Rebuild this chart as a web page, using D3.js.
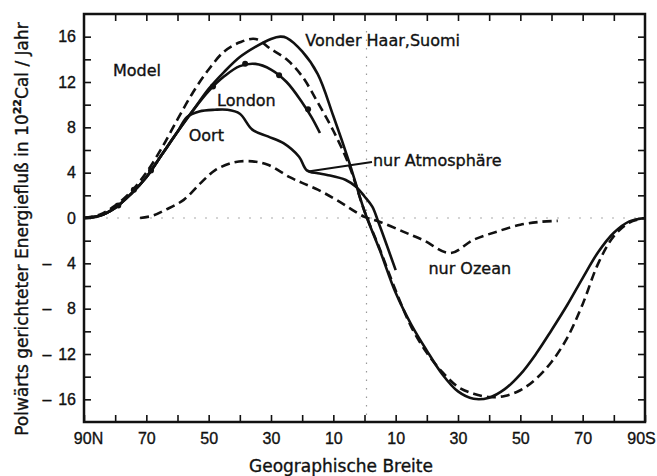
<!DOCTYPE html>
<html lang="de">
<head>
<meta charset="utf-8">
<title>Polwärts gerichteter Energiefluß</title>
<script src="https://cdn.jsdelivr.net/npm/d3@7"></script>
<style>
  body { margin: 0; background: #fff; }
  svg { font-family: "DejaVu Sans", sans-serif; }
  .axis line { stroke: #111; stroke-width: 1.6px; }
  .axis path { display: none; }
  .axis text { font-size: 16px; fill: #111; stroke: #111; stroke-width: 0.35px; }
  .lbl { font-size: 16px; fill: #111; stroke: #111; stroke-width: 0.35px; }
</style>
</head>
<body>
<script>

// data: latitude (N positive, S negative) and flux in 10^22 cal/year
var vonderHaarLat  = [90, 85, 80, 75, 70, 65, 60, 55, 50, 45, 40, 35, 30, 27, 25, 20, 15, 10, 5, 0, -5, -10, -15, -20, -25, -30, -35, -40, -45, -50, -55, -60, -65, -70, -75, -80, -85, -90];
var vonderHaarFlux = [0, 0.2, 0.9, 2.1, 3.6, 5.6, 7.6, 9.5, 11.4, 12.9, 14.2, 15.1, 15.8, 16.0, 15.9, 14.7, 12.7, 9.0, 5.0, 0.6, -2.9, -6.6, -9.4, -11.7, -13.8, -15.3, -15.95, -15.85, -15.1, -13.8, -12.0, -9.9, -7.7, -5.3, -3.0, -1.3, -0.3, 0];

var modelLat  = [90, 85, 80, 75, 70, 65, 60, 55, 50, 45, 40, 35, 30, 25, 20, 15, 10, 5, 0, -5, -10, -15, -20, -25, -30, -35, -40, -45, -50, -55, -60, -65, -70, -75, -80, -85, -90];
var modelFlux = [0, 0.3, 1.1, 2.3, 4.0, 6.2, 8.7, 11.1, 13.1, 14.7, 15.5, 15.8, 14.9, 14.0, 12.5, 10.2, 7.7, 4.7, 0.6, -2.8, -6.4, -9.6, -11.9, -13.6, -14.9, -15.5, -15.8, -15.7, -15.2, -14.2, -12.7, -10.6, -7.6, -4.0, -1.6, -0.4, 0];

var londonLat  = [90, 85, 80, 75, 70, 65, 60, 55, 50, 45, 40, 35, 30, 25, 20, 17, 14.3];
var londonFlux = [0, 0.2, 0.9, 2.1, 3.6, 5.6, 7.6, 9.5, 11.2, 12.5, 13.4, 13.6, 13.1, 12.0, 10.2, 8.9, 7.5];
var londonDotLat  = [79, 74, 68.5, 48.6, 38.3, 27.4, 18.1];
var londonDotFlux = [1.1, 2.5, 4.2, 11.6, 13.6, 12.6, 9.6];

var oortLat  = [90, 85, 80, 75, 70, 65, 60, 57, 53, 48, 44, 40, 36, 31, 26, 21, 18.5, 15, 12, 6, 2.5, 0, -2.5, -4.5, -10];
var oortFlux = [0, 0.2, 0.9, 2.1, 3.6, 5.6, 7.6, 8.9, 9.4, 9.55, 9.55, 9.2, 7.8, 7.2, 6.6, 5.4, 4.2, 3.95, 3.8, 3.35, 2.7, 1.9, 1.0, -0.4, -4.6];

var oceanLat  = [72, 68, 64, 58, 52.5, 48, 42, 36, 31, 24, 20, 15, 9, 0, -5, -12.4, -18.8, -27.5, -34.8, -42.5, -50, -56, -62];
var oceanFlux = [0, 0.2, 0.7, 1.6, 3.1, 4.2, 4.9, 5.0, 4.7, 3.6, 3.1, 2.5, 1.6, 0.1, -0.35, -1.2, -1.95, -3.1, -1.95, -1.2, -0.6, -0.35, -0.25];

// pointer from "nur Atmosphäre" label
var atmPointerLat  = [18.1, -2.4];
var atmPointerFlux = [4.1, 4.95];

var yTicks = d3.range(-16, 17, 2);
var xTicks = d3.range(-90, 91, 10);

var w = 657, h = 476;
var padLeft = 84, padRight = 645, padTop = 14, padBottom = 422;

var svg = d3.select("body").append("svg")
    .attr("width", w)
    .attr("height", h);

var x = d3.scaleLinear().domain([90, -90]).range([padLeft, padRight]);
var y = d3.scaleLinear().domain([-18, 18]).range([padBottom, padTop]);

// faint dotted reference lines (equator and zero)
svg.append("line")
    .attr("x1", x(0) + 2).attr("x2", x(0) + 2)
    .attr("y1", y(16.5)).attr("y2", padBottom)
    .attr("stroke", "#999").attr("stroke-width", 1.2)
    .attr("stroke-dasharray", "1.5,7");
svg.append("line")
    .attr("x1", padLeft).attr("x2", padRight)
    .attr("y1", y(0)).attr("y2", y(0))
    .attr("stroke", "#aaa").attr("stroke-width", 1.2)
    .attr("stroke-dasharray", "2,9");

// axes
var yAxis = d3.axisLeft(y)
    .tickValues(yTicks)
    .tickSize(-7)
    .tickPadding(8)
    .tickFormat(function(d){ return d % 4 === 0 ? Math.abs(d) : ""; });

var gy = svg.append("g")
    .attr("class", "axis")
    .attr("transform", "translate(" + padLeft + ",0)")
    .call(yAxis);

// the minus sign stands apart from the number
gy.selectAll(".tick")
    .filter(function(d){ return d < 0 && d % 4 === 0; })
    .append("text")
    .attr("x", -37)
    .attr("dy", "0.32em")
    .attr("text-anchor", "middle")
    .text("–");

svg.append("g")
    .attr("class", "axis")
    .attr("transform", "translate(" + padRight + ",0)")
    .call(d3.axisRight(y).tickValues(yTicks).tickSize(-7).tickFormat(""));

svg.append("g")
    .attr("class", "axis")
    .attr("transform", "translate(0," + padTop + ")")
    .call(d3.axisTop(x).tickValues(xTicks.slice(1, -1)).tickSize(-7).tickFormat(""));

var xAxis = d3.axisBottom(x)
    .tickValues(xTicks)
    .tickSize(-7)
    .tickPadding(11)
    .tickFormat(function(d){
        if (Math.abs(d) % 20 !== 10) return "";
        if (d === 90) return "90N";
        if (d === -90) return "90S";
        return Math.abs(d);
    });

var gx = svg.append("g")
    .attr("class", "axis")
    .attr("transform", "translate(0," + padBottom + ")")
    .call(xAxis);

// end labels sit a little inward, as in the print
gx.selectAll(".tick text")
    .attr("dx", function(d){ return d === 90 ? 4 : (d === -90 ? -4 : 0); });

// frame
svg.append("rect")
    .attr("x", padLeft).attr("y", padTop)
    .attr("width", padRight - padLeft).attr("height", padBottom - padTop)
    .attr("fill", "none")
    .attr("stroke", "#111")
    .attr("stroke-width", 2.5);

// curves
var line = d3.line()
    .x(function(d){ return x(d[0]); })
    .y(function(d){ return y(d[1]); })
    .curve(d3.curveCatmullRom.alpha(0.5));

function draw(lat, flux, dashed) {
    svg.append("path")
        .datum(d3.zip(lat, flux))
        .attr("d", line)
        .attr("fill", "none")
        .attr("stroke", "#111")
        .attr("stroke-width", 2.6)
        .attr("stroke-dasharray", dashed ? "9,5" : null);
}

draw(oceanLat, oceanFlux, true);
draw(oortLat, oortFlux, false);
draw(londonLat, londonFlux, false);
draw(modelLat, modelFlux, true);
draw(vonderHaarLat, vonderHaarFlux, false);

svg.selectAll("circle.london")
    .data(d3.zip(londonDotLat, londonDotFlux))
    .enter()
    .append("circle")
    .attr("class", "london")
    .attr("cx", function(d){ return x(d[0]); })
    .attr("cy", function(d){ return y(d[1]); })
    .attr("r", 3)
    .attr("fill", "#111");

svg.append("path")
    .datum(d3.zip(atmPointerLat, atmPointerFlux))
    .attr("d", d3.line().x(function(d){ return x(d[0]); }).y(function(d){ return y(d[1]); }))
    .attr("stroke", "#111")
    .attr("stroke-width", 2);

// curve labels
var labels = [
    {t: "Model", lat: 80.7, v: 12.5},
    {t: "London", lat: 47.3, v: 9.9},
    {t: "Oort", lat: 56.4, v: 6.8},
    {t: "Vonder Haar,Suomi", lat: 19, v: 15.2},
    {t: "nur Atmosphäre", lat: -2.7, v: 4.6},
    {t: "nur Ozean", lat: -20.5, v: -4.95}
];
svg.selectAll("text.lbl")
    .data(labels)
    .enter()
    .append("text")
    .attr("class", "lbl")
    .attr("x", function(d){ return x(d.lat); })
    .attr("y", function(d){ return y(d.v); })
    .text(function(d){ return d.t; });

// axis titles
svg.append("text")
    .attr("class", "lbl")
    .attr("x", 341)
    .attr("y", 472)
    .attr("text-anchor", "middle")
    .style("font-size", "17px")
    .text("Geographische Breite");

var yt = svg.append("text")
    .attr("class", "lbl")
    .attr("transform", "translate(28,229) rotate(-90)")
    .attr("text-anchor", "middle")
    .style("font-size", "17px");
yt.append("tspan").text("Polwärts gerichteter Energiefluß in 10");
yt.append("tspan").attr("dy", -7).style("font-size", "11px").style("font-weight", "bold").text("22");
yt.append("tspan").attr("dy", 7).text("Cal / Jahr");

</script>
</body>
</html>
